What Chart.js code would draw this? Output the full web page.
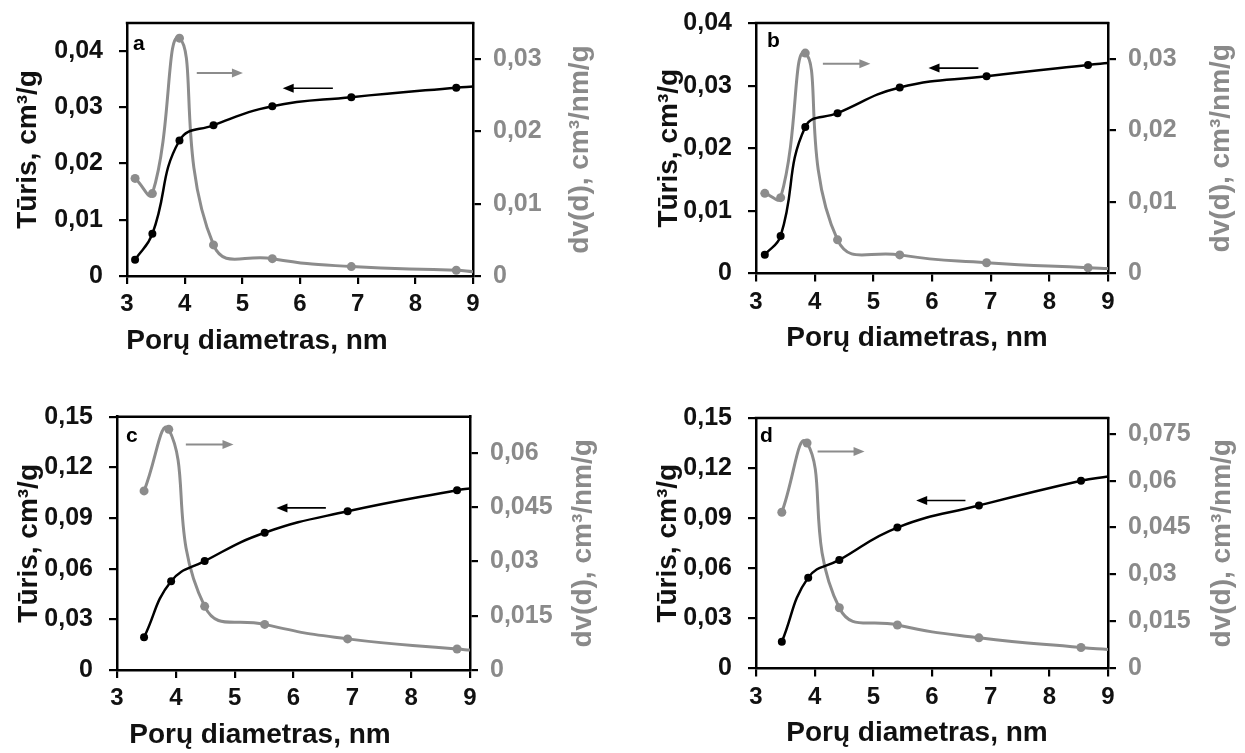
<!DOCTYPE html>
<html><head><meta charset="utf-8">
<script src="https://cdn.jsdelivr.net/npm/chart.js@4.4.0/dist/chart.umd.min.js"></script>
<style>
html,body{margin:0;padding:0;background:#fff;width:1245px;height:753px;overflow:hidden}
.p{position:absolute}
canvas{display:block}
</style></head><body>
<div class="p" id="wa"><canvas id="ca"></canvas></div>
<div class="p" id="wb"><canvas id="cb"></canvas></div>
<div class="p" id="wc"><canvas id="cc"></canvas></div>
<div class="p" id="wd"><canvas id="cd"></canvas></div>
<script>
// ---------- data ----------
const xTicks = [3, 4, 5, 6, 7, 8, 9];

const aDiam   = [3.14, 3.44, 3.91, 4.50, 5.52, 6.89, 8.71, 9.00];
const aVolume = [0.0029, 0.0075, 0.0241, 0.0268, 0.0302, 0.0318, 0.0335, 0.0337];
const aDistX  = [3.14, 3.44, 3.91, 4.50, 5.52, 6.89, 8.71, 9.00];
const aDist   = [0.0135, 0.0114, 0.0329, 0.0043, 0.0024, 0.0013, 0.0008, 0.0006];

const bDiam   = [3.15, 3.42, 3.84, 4.39, 5.45, 6.93, 8.66, 9.00];
const bVolume = [0.0030, 0.0060, 0.0234, 0.0256, 0.0297, 0.0315, 0.0333, 0.0336];
const bDistX  = [3.15, 3.42, 3.84, 4.39, 5.45, 6.93, 8.66, 9.00];
const bDist   = [0.0112, 0.0106, 0.0308, 0.0047, 0.0026, 0.0015, 0.0008, 0.0007];

const cDiam   = [3.46, 3.92, 4.49, 5.51, 6.92, 8.78, 9.00];
const cVolume = [0.0194, 0.0526, 0.0645, 0.0813, 0.0940, 0.1065, 0.1075];
const cDistX  = [3.46, 3.88, 4.49, 5.51, 6.92, 8.78, 9.00];
const cDist   = [0.0495, 0.0665, 0.0176, 0.0126, 0.0086, 0.0058, 0.0055];

const dDiam   = [3.44, 3.89, 4.42, 5.41, 6.80, 8.54, 9.00];
const dVolume = [0.0160, 0.0544, 0.0650, 0.0844, 0.0976, 0.1124, 0.1150];
const dDistX  = [3.44, 3.87, 4.42, 5.41, 6.80, 8.54, 9.00];
const dDist   = [0.0499, 0.0720, 0.0194, 0.0139, 0.0098, 0.0067, 0.0061];

const leftAxis  = {a:{max:0.045, step:0.01}, b:{max:0.04, step:0.01}, c:{max:0.15, step:0.03}, d:{max:0.15, step:0.03}};
const rightAxis = {a:{max:0.035, step:0.01}, b:{max:0.035, step:0.01}, c:{max:0.07, step:0.015}, d:{max:0.08, step:0.015}};

const xTitle = 'Porų diametras, nm';
const yTitle = 'Tūris, cm³/g';
const y1Title = 'dv(d), cm³/nm/g';

// ---------- layout / style ----------
const FONT = '"Liberation Sans", Arial, Helvetica, sans-serif';
const GREY = '#8c8c8c';
const GREYTXT = '#8a8a8a';

const panels = [
  {id:'a', diam:aDiam, vol:aVolume, distX:aDistX, dist:aDist,
   box:{left:0, top:0, w:620, h:376}, T:23, Lw:127, Rw:147, Hx:100,
   ltX:28, xtX:257, rtDx:107, lab:{dx:6, dy:27},
   arrows:[{x0:4.21, x1:5.01, y:0.0361, color:GREY, w:2}, {x0:6.57, x1:5.70, y:0.0334, color:'#000', w:1.6}]},
  {id:'b', diam:bDiam, vol:bVolume, distX:bDistX, dist:bDist,
   box:{left:620, top:0, w:625, h:376}, T:23, Lw:136, Rw:137, Hx:102.5,
   ltX:49, xtX:297, rtDx:113, lab:{dx:11, dy:24},
   arrows:[{x0:4.14, x1:4.95, y:0.0335, color:GREY, w:2}, {x0:6.79, x1:5.94, y:0.0328, color:'#000', w:1.6}]},
  {id:'c', diam:cDiam, vol:cVolume, distX:cDistX, dist:cDist,
   box:{left:0, top:376, w:620, h:377}, T:40.7, Lw:117, Rw:150, Hx:83,
   ltX:29, xtX:260, rtDx:113, lab:{dx:9, dy:25},
   arrows:[{x0:4.17, x1:4.98, y:0.1336, color:GREY, w:2}, {x0:6.55, x1:5.71, y:0.0960, color:'#000', w:1.6}]},
  {id:'d', diam:dDiam, vol:dVolume, distX:dDistX, dist:dDist,
   box:{left:620, top:376, w:625, h:377}, T:42, Lw:136, Rw:137, Hx:84.5,
   ltX:48, xtX:297, rtDx:114, lab:{dx:4, dy:24},
   arrows:[{x0:4.05, x1:4.85, y:0.1300, color:GREY, w:2}, {x0:6.57, x1:5.73, y:0.1006, color:'#000', w:1.6}]}
];

function fmt(v){ return Number(v.toFixed(4)).toString().replace('.', ','); }

const decoPlugin = {
  id: 'deco',
  afterDatasetsDraw(chart, args, o) {
    const {ctx, chartArea: ca, scales} = chart;
    ctx.save();
    // top frame line
    ctx.strokeStyle = '#000'; ctx.lineWidth = 2.5;
    ctx.beginPath(); ctx.moveTo(ca.left - 1.2, ca.top); ctx.lineTo(ca.right + 1.2, ca.top); ctx.stroke();
    // arrows
    for (const a of o.arrows) {
      const x0 = scales.x.getPixelForValue(a.x0), x1 = scales.x.getPixelForValue(a.x1);
      const y = scales.y.getPixelForValue(a.y);
      const dir = Math.sign(x1 - x0);
      ctx.strokeStyle = a.color; ctx.fillStyle = a.color; ctx.lineWidth = a.w;
      ctx.beginPath(); ctx.moveTo(x0, y); ctx.lineTo(x1 - dir * 8, y); ctx.stroke();
      ctx.beginPath(); ctx.moveTo(x1, y); ctx.lineTo(x1 - dir * 11, y - 4.5); ctx.lineTo(x1 - dir * 11, y + 4.5); ctx.closePath(); ctx.fill();
    }
    // panel letter
    ctx.fillStyle = '#000'; ctx.font = 'bold 21px ' + FONT;
    ctx.textAlign = 'left'; ctx.textBaseline = 'alphabetic';
    ctx.fillText(o.label, ca.left + o.lab.dx, ca.top + o.lab.dy);
    const midY = (ca.top + ca.bottom) / 2;
    ctx.font = 'bold 28px ' + FONT;
    ctx.textAlign = 'center'; ctx.textBaseline = 'middle';
    // x axis title
    ctx.fillStyle = '#111';
    ctx.fillText(xTitle, o.xtX, ca.bottom + 65);
    // left axis title (reads bottom to top)
    ctx.save();
    ctx.translate(o.ltX, midY); ctx.rotate(-Math.PI / 2);
    ctx.fillText(yTitle, 0, 0);
    ctx.restore();
    // right axis title (reads bottom to top)
    ctx.save();
    ctx.translate(ca.right + o.rtDx, midY); ctx.rotate(-Math.PI / 2);
    ctx.fillStyle = GREYTXT;
    ctx.fillText(y1Title, 0, 0);
    ctx.restore();
    ctx.restore();
  }
};

for (const p of panels) {
  const wrap = document.getElementById('w' + p.id);
  wrap.style.left = p.box.left + 'px'; wrap.style.top = p.box.top + 'px';
  wrap.style.width = p.box.w + 'px'; wrap.style.height = p.box.h + 'px';
  const cv = document.getElementById('c' + p.id);
  cv.width = p.box.w; cv.height = p.box.h;
  cv.style.width = p.box.w + 'px'; cv.style.height = p.box.h + 'px';

  const n1 = p.diam.length, n2 = p.distX.length;
  const la = leftAxis[p.id], ra = rightAxis[p.id];
  const yTickFont = {family: FONT, size: 25, weight: 'bold'};
  const xTickFont = {family: FONT, size: 24, weight: 'bold'};
  const fixV = w => s => { s.width = w; s.paddingTop = 0; s.paddingBottom = 0; };

  new Chart(cv, {
    type: 'line',
    data: {
      datasets: [
        {label: 'Tūris', data: p.diam.map((x, i) => ({x, y: p.vol[i]})), yAxisID: 'y',
         borderColor: '#000', backgroundColor: '#000', borderWidth: 2.5,
         pointRadius: c => c.dataIndex === n1 - 1 ? 0 : 4, pointBorderWidth: 0,
         tension: 0.45, fill: false},
        {label: 'dv(d)', data: p.distX.map((x, i) => ({x, y: p.dist[i]})), yAxisID: 'y1',
         borderColor: GREY, backgroundColor: GREY, borderWidth: 3,
         pointRadius: c => c.dataIndex === n2 - 1 ? 0 : 4.5, pointBorderWidth: 0,
         tension: 0.5, fill: false}
      ]
    },
    options: {
      responsive: false, maintainAspectRatio: false, animation: false,
      devicePixelRatio: 1,
      layout: {padding: {top: p.T, left: 0, right: 0, bottom: 0}, autoPadding: false},
      plugins: {
        legend: {display: false}, tooltip: {enabled: false},
        deco: {arrows: p.arrows, label: p.id, lab: p.lab, rtDx: p.rtDx, ltX: p.ltX, xtX: p.xtX}
      },
      scales: {
        x: {
          type: 'linear', min: xTicks[0], max: xTicks[xTicks.length - 1],
          afterBuildTicks: s => { s.ticks = xTicks.map(v => ({value: v})); },
          ticks: {color: '#111', font: xTickFont, padding: 6, callback: v => String(v), maxRotation: 0, autoSkip: false},
          grid: {drawOnChartArea: false, drawTicks: true, tickLength: 8, tickColor: '#000', tickWidth: 2.2, lineWidth: 2.2},
          border: {display: true, color: '#000', width: 2.5},
          title: {display: false},
          afterFit: s => { s.height = p.Hx; s.paddingLeft = 0; s.paddingRight = 0; }
        },
        y: {
          type: 'linear', position: 'left', min: 0, max: la.max,
          ticks: {stepSize: la.step, includeBounds: false, color: '#111', font: yTickFont, padding: 16, callback: v => fmt(v)},
          grid: {drawOnChartArea: false, drawTicks: true, tickLength: 8, tickColor: '#000', tickWidth: 2.2, lineWidth: 2.2},
          border: {display: true, color: '#000', width: 2.5},
          title: {display: false},
          afterFit: fixV(p.Lw)
        },
        y1: {
          type: 'linear', position: 'right', min: 0, max: ra.max,
          ticks: {stepSize: ra.step, includeBounds: false, color: GREYTXT, font: yTickFont, padding: 12, callback: v => fmt(v)},
          grid: {drawOnChartArea: false, drawTicks: true, tickLength: 8, tickColor: '#000', tickWidth: 2.2, lineWidth: 2.2},
          border: {display: true, color: '#000', width: 2.5},
          title: {display: false},
          afterFit: fixV(p.Rw)
        }
      }
    },
    plugins: [decoPlugin]
  });
}
</script>
</body></html>
